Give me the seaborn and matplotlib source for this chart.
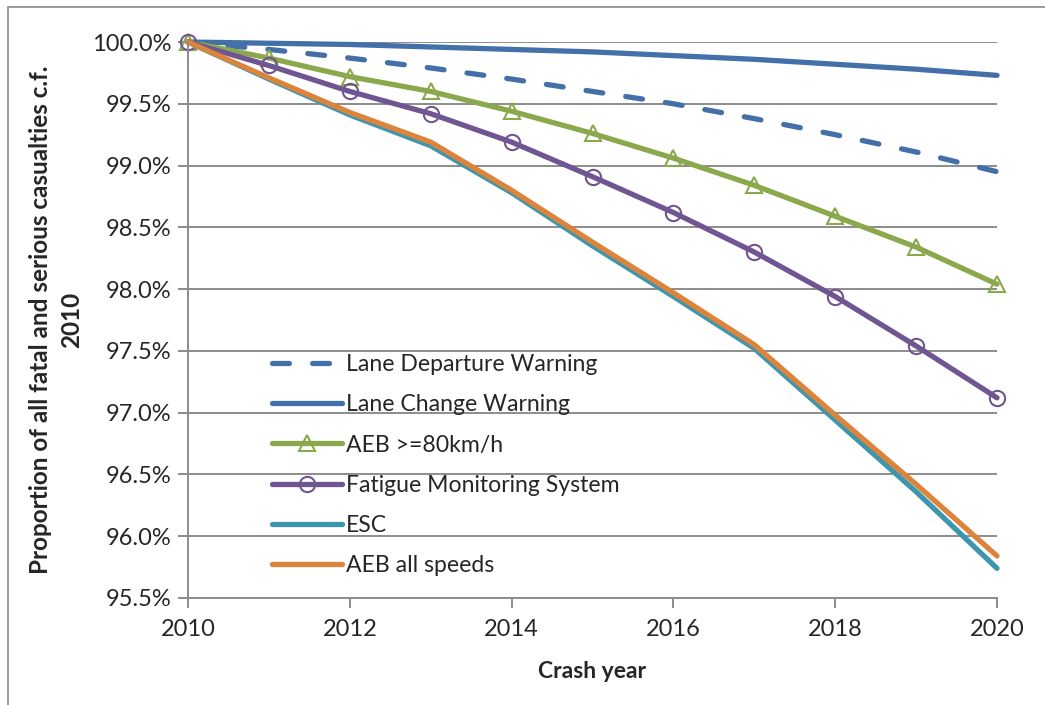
import matplotlib
matplotlib.use('Agg')
import matplotlib.pyplot as plt
import matplotlib.patches as mpatches
from matplotlib.ticker import FuncFormatter
import pandas as pd
import seaborn as sns

# crash years and proportion of 2010 fatal+serious casualties (%)
years = [2010, 2011, 2012, 2013, 2014, 2015, 2016, 2017, 2018, 2019, 2020]
lane_departure = [100.0, 99.94, 99.87, 99.79, 99.70, 99.60, 99.50, 99.38, 99.25, 99.11, 98.95]
lane_change = [100.0, 99.99, 99.98, 99.96, 99.94, 99.92, 99.89, 99.86, 99.82, 99.78, 99.73]
aeb_80 = [100.0, 99.87, 99.72, 99.60, 99.44, 99.26, 99.06, 98.84, 98.59, 98.34, 98.04]
fatigue = [100.0, 99.81, 99.60, 99.42, 99.19, 98.91, 98.62, 98.30, 97.94, 97.54, 97.12]
esc = [100.0, 99.70, 99.41, 99.16, 98.78, 98.35, 97.94, 97.52, 96.94, 96.36, 95.74]
aeb_all = [100.0, 99.71, 99.43, 99.19, 98.80, 98.38, 97.97, 97.55, 96.98, 96.42, 95.84]

series_names = ['Lane Departure Warning', 'Lane Change Warning', 'AEB >=80km/h',
                'Fatigue Monitoring System', 'ESC', 'AEB all speeds']
series_vals = [lane_departure, lane_change, aeb_80, fatigue, esc, aeb_all]

sns.set_style('white')
plt.rcParams['font.family'] = ['Lato', 'DejaVu Sans']

fig = plt.figure(figsize=(10.45, 7.05), dpi=100)
ax = fig.add_axes([0.1799, 0.1518, 0.7742, 0.7886])

colors = ['#4370A8', '#4370A8', '#8BA84C', '#6F5592', '#3D96AE', '#DD843C']
markers = [None, None, '^', 'o', None, None]

for name, vals, col, mk in zip(series_names, series_vals, colors, markers):
    df = pd.DataFrame({'year': years, 'pct': vals})
    kw = dict(x='year', y='pct', data=df, ax=ax, color=col, label=name, lw=3.8,
              solid_capstyle='round', dash_capstyle='round', clip_on=False)
    if mk is not None:
        kw.update(marker=mk, markersize=11, markerfacecolor='none',
                  markeredgecolor=col, markeredgewidth=1.5)
    if name == 'Lane Departure Warning':
        kw.update(linestyle=(0, (3.2, 4.4)))
    sns.lineplot(**kw)

ax.set_xlim(2010, 2020)
ax.set_ylim(95.5, 100.0)
ax.set_xticks(range(2010, 2021, 2))
ax.set_yticks([95.5 + 0.5 * i for i in range(10)])
ax.yaxis.set_major_formatter(FuncFormatter(lambda v, p: f'{v:.1f}%'))
ax.grid(axis='y', color='#8c8c8c', lw=1.4)
ax.grid(axis='x', visible=False)
for s in ['top', 'right']:
    ax.spines[s].set_visible(False)
for s in ['left', 'bottom']:
    ax.spines[s].set_color('#8c8c8c')
    ax.spines[s].set_linewidth(1.4)
ax.tick_params(axis='both', length=7, width=1.4, color='#8c8c8c',
               labelsize=17, pad=5, direction='out', left=True, bottom=True)
ax.tick_params(axis='x', pad=8)

ax.set_xlabel('Crash year', fontsize=16.5, fontweight='bold', labelpad=15)
ax.set_ylabel('Proportion of all fatal and serious casualties c.f.\n2010',
              fontsize=17.5, fontweight='bold', labelpad=6, linespacing=1.45)

leg = ax.legend(loc='upper left', bbox_to_anchor=(0.0925, 0.455), frameon=False,
                fontsize=16.6, handlelength=3.05, handletextpad=0.15,
                labelspacing=0.83, borderaxespad=0)

# chart area border (only left and top fall inside the image)
fig.add_artist(mpatches.Rectangle((8 / 1045, -0.2), 1.5, 1.2 - 7 / 705,
                                  transform=fig.transFigure, fill=False,
                                  edgecolor='#8c8c8c', lw=1.2))

fig.savefig('out.png', dpi=100)
